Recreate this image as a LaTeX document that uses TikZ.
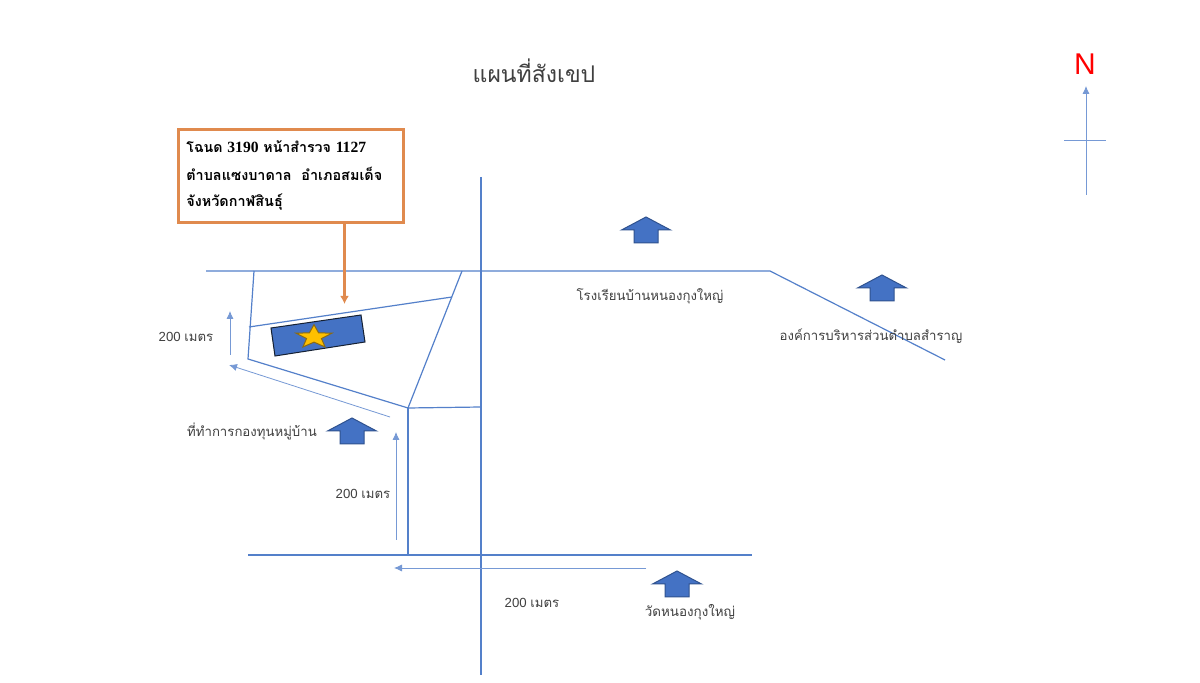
\documentclass[tikz,border=0pt]{standalone}
\usepackage{fontspec}
\setmainfont{Liberation Sans}
\newfontfamily\thaifont[Script=Thai]{Loma}
\newfontfamily\serifnum{Liberation Serif}
\usetikzlibrary{arrows.meta,shapes.geometric}
\definecolor{road}{HTML}{5480CA}
\definecolor{fillblue}{HTML}{4472C4}
\definecolor{edgeblue}{HTML}{2F528F}
\definecolor{boxorange}{HTML}{E08A4E}
\definecolor{txt}{HTML}{404040}
\definecolor{stargold}{HTML}{FFC000}
\definecolor{staredge}{HTML}{8A6A14}
\tikzset{
  roadline/.style={draw=road,line width=0.6pt},
  thinarrow/.style={draw=road!80,line width=0.4pt,-{Latex[length=4pt,width=3.6pt]}},
  lbl/.style={text=txt,font=\fontsize{6.6pt}{8pt}\selectfont,inner sep=0pt},
  upblock/.pic={\draw[fill=fillblue,draw=edgeblue,line width=0.5pt,line join=miter]
     (0,0) -- (24.5,13) -- (12,13) -- (12,26) -- (-12,26) -- (-12,13) -- (-24.5,13) -- cycle;},
}
\begin{document}
\begin{tikzpicture}[x=0.5pt,y=-0.5pt]
\useasboundingbox[fill=white] (0,0) rectangle (1200,683);
% named points
\foreach \n/\x/\y in {vt/481/177,vb/481/675,ha/206/271,hb/770/271,hc/945/360,
  ba/248/555,bb/752/555,pa/254/271,pb/248/359,pc/408/408,pd/462/271,
  qa/249/327,qb/452/297,ra/481/407,rb/408/555,
  na/1086/195,nb/1086/86,ca/1064/140,cb/1106/140,
  aa/230/355,ab/230/311,ba1/390/417,bb1/229/365,da/396/540,db/396/432,ea/646/568,eb/394/568,
  oa/344.5/223,ob/344.5/304}
  {\coordinate (\n) at (\x,\y);}
% roads
\draw[roadline] (vt) -- (vb);
\draw[roadline] (ha) -- (hb) -- (hc);
\draw[roadline] (ba) -- (bb);
\draw[roadline] (pa) -- (pb) -- (pc) -- (pd);
\draw[roadline] (qa) -- (qb);
\draw[roadline] (pc) -- (ra);
\draw[roadline] (pc) -- (rb);
% north sign
\node[text=red,inner sep=0pt,font=\fontsize{15pt}{17pt}\selectfont] (north) at (1085,64) {N};
\draw[thinarrow] (na) -- (nb);
\draw[draw=road!80,line width=0.4pt] (ca) -- (cb);
% title
\node[text=txt,inner sep=0pt,font=\thaifont\fontsize{11.5pt}{14pt}\selectfont] (title) at (534,71) {แผนที่สังเขป};
% callout
\node[draw=boxorange,fill=white,line width=1.4pt,minimum width=112.6pt,minimum height=46.6pt,inner sep=0pt,anchor=north west] (callout) at (177,128) {};
\node[anchor=west,inner sep=0pt,font=\thaifont\bfseries\fontsize{7.1pt}{9pt}\selectfont] (c1) at (186,147) {โฉนด {\serifnum\bfseries\fontsize{7.8pt}{9pt}\selectfont 3190} หน้าสำรวจ {\serifnum\bfseries\fontsize{7.8pt}{9pt}\selectfont 1127}};
\node[anchor=west,inner sep=0pt,font=\thaifont\bfseries\fontsize{7.2pt}{9pt}\selectfont] (c2) at (186,174) {ตำบลแซงบาดาล\ \ อำเภอสมเด็จ};
\node[anchor=west,inner sep=0pt,font=\thaifont\bfseries\fontsize{7.2pt}{9pt}\selectfont] (c3) at (186,202) {จังหวัดกาฬสินธุ์};
\draw[draw=boxorange,line width=1.1pt,-{Latex[length=4pt,width=4.4pt]}] (oa) -- (ob);
% plot building
\draw[fill=fillblue,draw=black!75!road,line width=0.5pt] (271,328) -- (361,315) -- (365,342) -- (275,356) -- cycle;
\node[star,star points=5,star point ratio=2.4,fill=stargold,draw=staredge,line width=0.5pt,minimum size=13pt,inner sep=0pt,transform shape,xscale=1.45,yscale=0.95] (site) at (314,337) {};
% dimension arrows
\draw[thinarrow] (aa) -- (ab);
\draw[thinarrow] (ba1) -- (bb1);
\draw[thinarrow] (da) -- (db);
\draw[thinarrow] (ea) -- (eb);
% landmarks
\pic at (352,418) {upblock};
\pic at (646,217) {upblock};
\pic at (882,275) {upblock};
\pic at (677,571) {upblock};
% labels
\node[lbl] (l1) at (186,337) {200 {\thaifont เมตร}};
\node[lbl] (l2) at (363,494) {200 {\thaifont เมตร}};
\node[lbl] (l3) at (532,603) {200 {\thaifont เมตร}};
\node[lbl,font=\thaifont\fontsize{6.6pt}{8pt}\selectfont] (l4) at (252,431) {ที่ทำการกองทุนหมู่บ้าน};
\node[lbl,font=\thaifont\fontsize{6.7pt}{8pt}\selectfont] (l5) at (690,612) {วัดหนองกุงใหญ่};
\node[lbl,font=\thaifont\fontsize{6.6pt}{8pt}\selectfont] (l6) at (650,296) {โรงเรียนบ้านหนองกุงใหญ่};
\node[lbl,font=\thaifont\fontsize{6.6pt}{8pt}\selectfont] (l7) at (871,336) {องค์การบริหารส่วนตำบลสำราญ};
\end{tikzpicture}
\end{document}
